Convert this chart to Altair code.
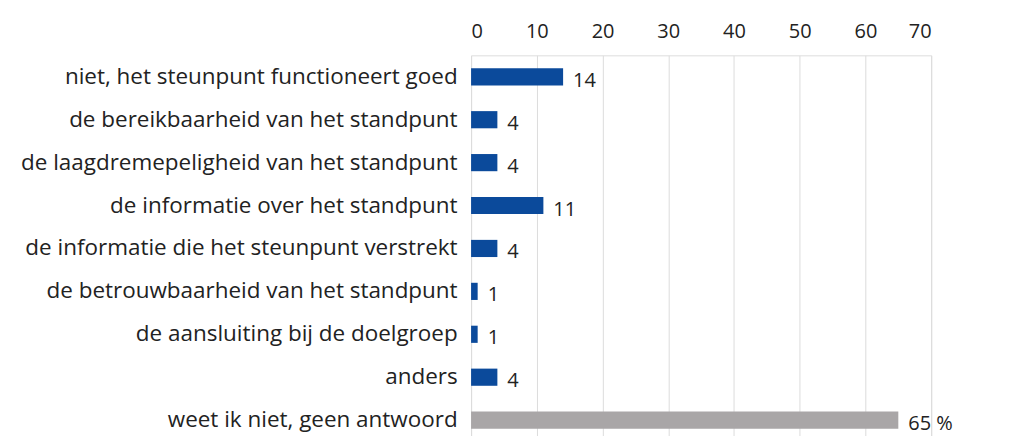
import altair as alt
import pandas as pd

categories = [
    "niet, het steunpunt functioneert goed",
    "de bereikbaarheid van het standpunt",
    "de laagdremepeligheid van het standpunt",
    "de informatie over het standpunt",
    "de informatie die het steunpunt verstrekt",
    "de betrouwbaarheid van het standpunt",
    "de aansluiting bij de doelgroep",
    "anders",
    "weet ik niet, geen antwoord",
]
values = [14, 4, 4, 11, 4, 1, 1, 4, 65]
labels = ["14", "4", "4", "11", "4", "1", "1", "4", "65 %"]
groups = ["a", "a", "a", "a", "a", "a", "a", "a", "b"]
ticks = [0, 10, 20, 30, 40, 50, 60, 70]

df = pd.DataFrame({"cat": categories, "val": values, "lab": labels, "grp": groups})

FONT = "Open Sans"

x = alt.X("val:Q", scale=alt.Scale(domain=[0, 70], nice=False),
          axis=alt.Axis(orient="top", values=ticks, title=None, grid=True,
                        gridColor="#DCDCDC", gridWidth=1, domain=False, ticks=False,
                        labelFont=FONT, labelFontSize=20, labelColor="#222222",
                        labelPadding=14))
y = alt.Y("cat:N", sort=categories,
          scale=alt.Scale(paddingInner=0.6, paddingOuter=0.3),
          axis=alt.Axis(title=None, domain=False, ticks=False, labelFont=FONT,
                        labelFontSize=22.5, labelColor="#222222", labelPadding=14,
                        labelLimit=600))

bars = alt.Chart(df).mark_bar().encode(
    x=x, y=y,
    color=alt.Color("grp:N", scale=alt.Scale(domain=["a", "b"], range=["#0B4A9B", "#A9A6A7"]),
                    legend=None),
)
text = alt.Chart(df).mark_text(align="left", baseline="middle", dx=10, dy=4,
                               font=FONT, fontSize=20, color="#222222").encode(
    x="val:Q", y=alt.Y("cat:N", sort=categories), text="lab:N")

chart = (bars + text).properties(
    width=461, height=387,
    autosize=alt.AutoSizeParams(type="none"),
    padding={"left": 464, "top": 47, "right": 90, "bottom": 0},
).configure_view(stroke=None).configure(background="white")

chart.save("out.html", embed_options={"renderer": "svg", "actions": False})
